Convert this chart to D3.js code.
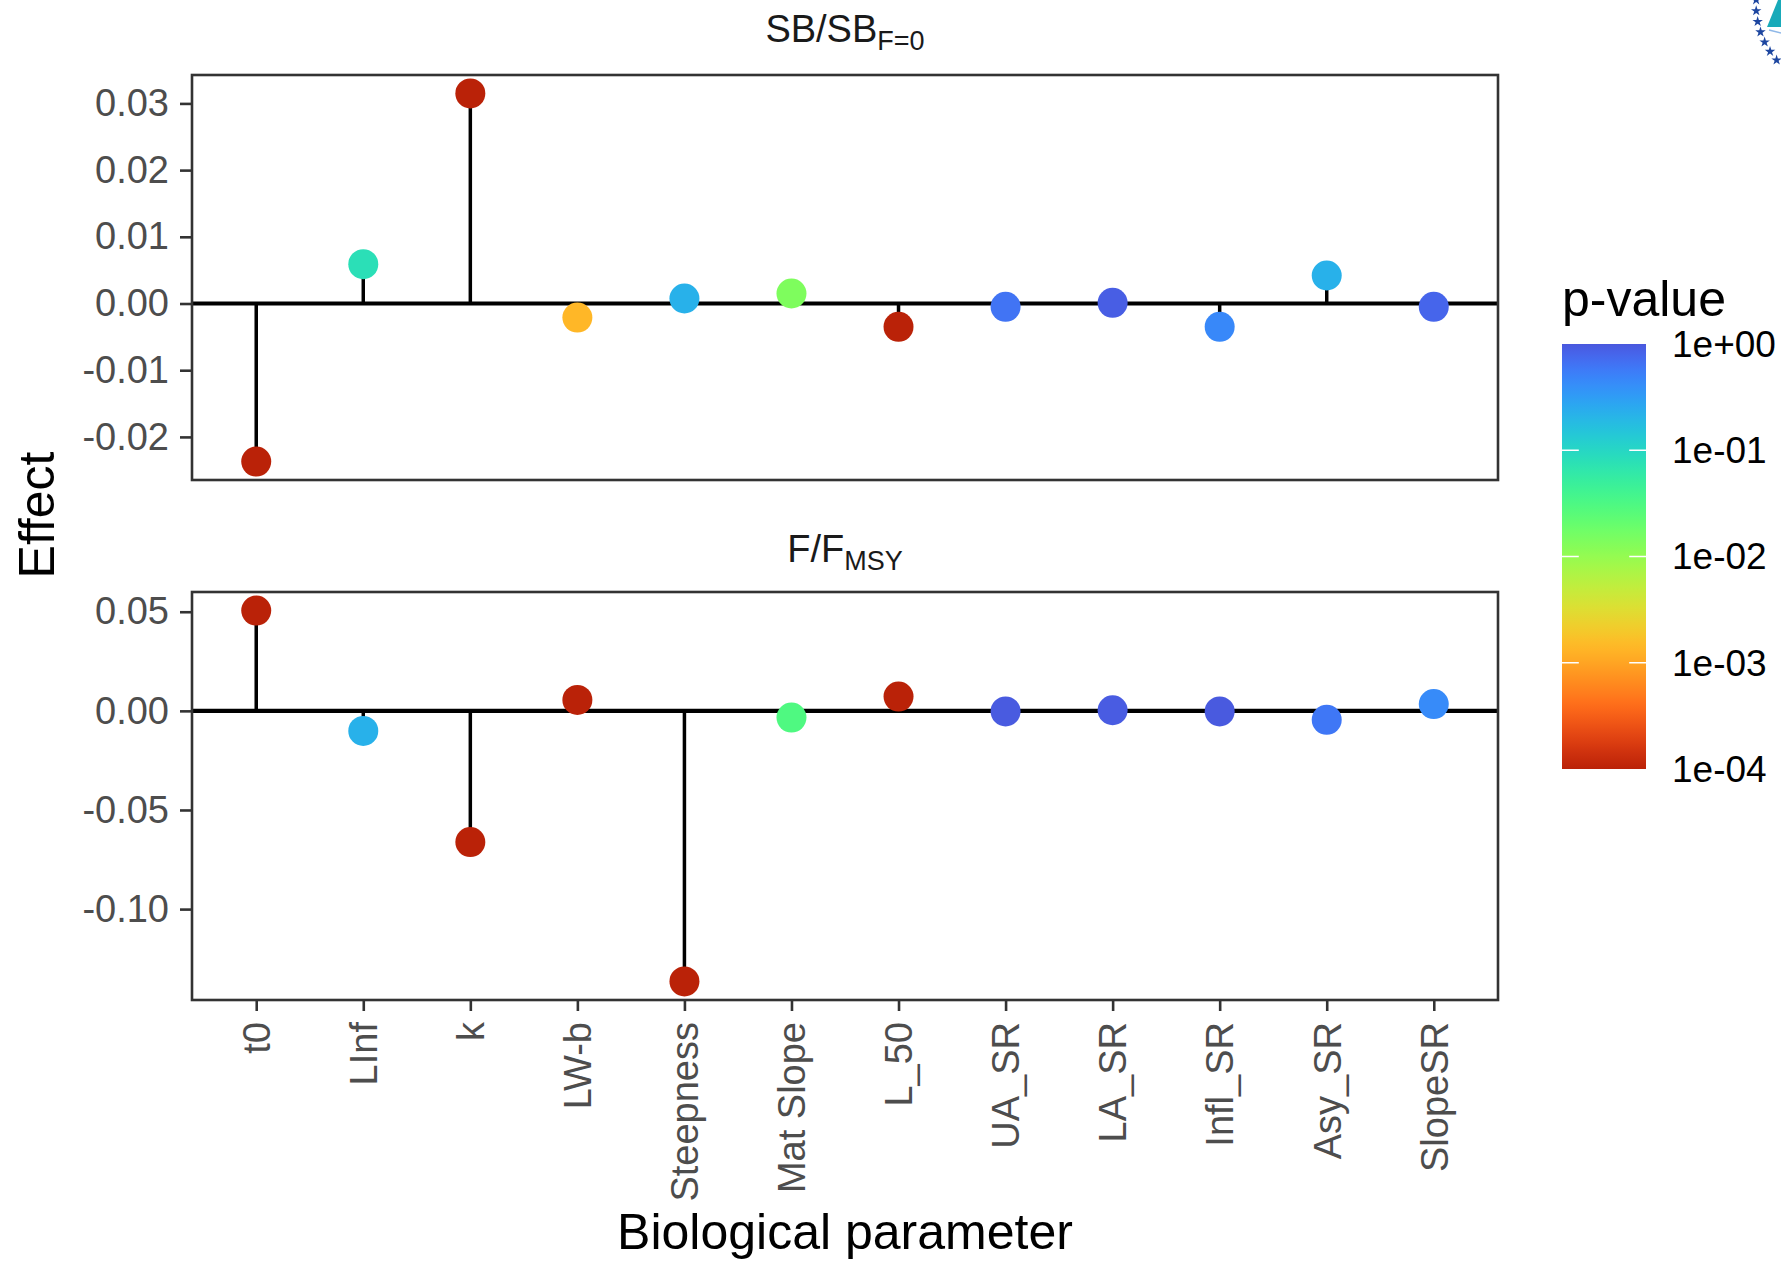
<!DOCTYPE html>
<html lang="en">
<head>
  <meta charset="UTF-8" />
  <title>Effect of biological parameters</title>
  <script src="https://cdn.jsdelivr.net/npm/d3@7"></script>
  <style>
    body {
      margin: 0;
      background: #fff;
      font-family: "Liberation Sans", Arial, sans-serif;
    }
  </style>
</head>
<body>
  <div id="chart"></div>

  <script type="text/javascript">
    // Biological parameters on the x axis
    var params = ["t0", "LInf", "k", "LW-b", "Steepness", "Mat Slope", "L_50",
                  "UA_SR", "LA_SR", "Infl_SR", "Asy_SR", "SlopeSR"];

    // SB/SB(F=0) panel
    var sbEffect = [-0.0237, 0.0059, 0.0315, -0.0021, 0.00075, 0.0015, -0.0035,
                    -0.0005, 0.0001, -0.0035, 0.0042, -0.0005];
    var sbPvalue = [1e-4, 0.08, 1e-4, 0.0014, 0.22, 0.014, 1e-4,
                    0.63, 0.9, 0.45, 0.22, 0.8];
    var sbTicks = [-0.02, -0.01, 0.00, 0.01, 0.02, 0.03];

    // F/FMSY panel
    var fEffect = [0.0506, -0.0101, -0.0662, 0.0055, -0.1365, -0.0034, 0.0072,
                   -0.0003, 0.0003, -0.0003, -0.0045, 0.0034];
    var fPvalue = [1e-4, 0.22, 1e-4, 1e-4, 1e-4, 0.03, 1e-4,
                   0.95, 0.93, 0.97, 0.6, 0.43];
    var fTicks = [-0.10, -0.05, 0.00, 0.05];

    // colour bar
    var legendValues = [1, 0.1, 0.01, 0.001, 0.0001];
    var legendLabels = ["1e+00", "1e-01", "1e-02", "1e-03", "1e-04"];

    var width = 1781, height = 1262;
    var left = 192, right = 1498;

    var svg = d3.select("#chart").append("svg")
      .attr("width", width)
      .attr("height", height)
      .style("display", "block");

    var x = d3.scalePoint().domain(params).range([left, right]).padding(0.6);

    // turbo palette, trimmed at both ends, reversed (blue = p of 1)
    var color = d3.scaleSequentialLog([1e-4, 1], function(t) {
      return d3.interpolateTurbo(0.9 - 0.8 * t);
    }).clamp(true);

    var panels = [
      { title: "SB/SB", sub: "F=0", titleY: 42, top: 75, bottom: 480,
        effect: sbEffect, pvalue: sbPvalue, ticks: sbTicks },
      { title: "F/F", sub: "MSY", titleY: 562, top: 592, bottom: 1000,
        effect: fEffect, pvalue: fPvalue, ticks: fTicks }
    ];

    panels.forEach(function(p, pi) {
      var data = params.map(function(name, i) {
        return { name: name, effect: p.effect[i], pvalue: p.pvalue[i] };
      });

      // ggplot style 5% expansion, zero line included
      var ext = d3.extent(p.effect.concat([0]));
      var pad = (ext[1] - ext[0]) * 0.05;
      var y = d3.scaleLinear()
        .domain([ext[0] - pad, ext[1] + pad])
        .range([p.bottom, p.top]);

      var g = svg.append("g");

      // strip title with subscript
      var title = g.append("text")
        .attr("x", (left + right) / 2)
        .attr("y", p.titleY)
        .attr("text-anchor", "middle")
        .attr("fill", "#1a1a1a")
        .style("font-size", "38px");
      title.append("tspan").text(p.title);
      title.append("tspan")
        .attr("dy", 7.5)
        .style("font-size", "27px")
        .text(p.sub);

      // y axis
      var yAxis = g.append("g")
        .attr("transform", "translate(" + left + ",0)")
        .call(d3.axisLeft(y)
          .tickValues(p.ticks)
          .tickSize(12)
          .tickPadding(11)
          .tickFormat(function(d) { return d.toFixed(2); }));
      yAxis.select(".domain").remove();
      yAxis.selectAll(".tick line").attr("stroke", "#333").attr("stroke-width", 2.6);
      yAxis.selectAll(".tick text")
        .attr("fill", "#4d4d4d")
        .style("font-size", "38px")
        .style("font-family", "'Liberation Sans', Arial, sans-serif");

      // x axis ticks on the lower panel only
      if (pi === panels.length - 1) {
        var xAxis = g.append("g")
          .attr("transform", "translate(0," + p.bottom + ")")
          .call(d3.axisBottom(x).tickSize(11));
        xAxis.select(".domain").remove();
        xAxis.selectAll(".tick line").attr("stroke", "#333").attr("stroke-width", 2.6);
        xAxis.selectAll(".tick text")
          .attr("transform", "rotate(-90)")
          .attr("x", -22)
          .attr("y", 0)
          .attr("dy", "0.35em")
          .attr("fill", "#4d4d4d")
          .style("text-anchor", "end")
          .style("font-size", "38px")
          .style("font-family", "'Liberation Sans', Arial, sans-serif");
      }

      // zero line
      g.append("line")
        .attr("x1", left).attr("x2", right)
        .attr("y1", y(0)).attr("y2", y(0))
        .attr("stroke", "#000")
        .attr("stroke-width", 4.2);

      // stems
      g.selectAll(".stem")
        .data(data)
        .join("line")
        .attr("class", "stem")
        .attr("x1", function(d) { return x(d.name); })
        .attr("x2", function(d) { return x(d.name); })
        .attr("y1", y(0))
        .attr("y2", function(d) { return y(d.effect); })
        .attr("stroke", "#000")
        .attr("stroke-width", 3.5);

      // points
      g.selectAll(".dot")
        .data(data)
        .join("circle")
        .attr("class", "dot")
        .attr("cx", function(d) { return x(d.name); })
        .attr("cy", function(d) { return y(d.effect); })
        .attr("r", 15)
        .attr("fill", function(d) { return color(d.pvalue); });

      // panel border
      g.append("rect")
        .attr("x", left).attr("y", p.top)
        .attr("width", right - left)
        .attr("height", p.bottom - p.top)
        .attr("fill", "none")
        .attr("stroke", "#333")
        .attr("stroke-width", 2.6);
    });

    // axis titles
    svg.append("text")
      .attr("transform", "translate(54,515) rotate(-90)")
      .attr("text-anchor", "middle")
      .style("font-size", "50px")
      .text("Effect");

    svg.append("text")
      .attr("x", (left + right) / 2)
      .attr("y", 1249)
      .attr("text-anchor", "middle")
      .style("font-size", "50px")
      .text("Biological parameter");

    // colour bar legend
    var barX = 1562, barTop = 344, barBottom = 769, barW = 84;
    var ly = d3.scaleLog().domain([1, 1e-4]).range([barTop, barBottom]);

    var grad = svg.append("defs").append("linearGradient")
      .attr("id", "pgrad")
      .attr("x1", 0).attr("y1", 0).attr("x2", 0).attr("y2", 1);
    grad.selectAll("stop")
      .data(d3.range(0, 1.0001, 0.02))
      .join("stop")
      .attr("offset", function(t) { return t; })
      .attr("stop-color", function(t) { return color(Math.pow(10, -4 * t)); });

    svg.append("text")
      .attr("x", barX)
      .attr("y", 316)
      .style("font-size", "50px")
      .text("p-value");

    svg.append("rect")
      .attr("x", barX).attr("y", barTop)
      .attr("width", barW).attr("height", barBottom - barTop)
      .attr("fill", "url(#pgrad)");

    var inner = legendValues.slice(1, -1);
    svg.selectAll(".ltick-l")
      .data(inner)
      .join("line")
      .attr("x1", barX).attr("x2", barX + barW / 5)
      .attr("y1", function(d) { return ly(d); })
      .attr("y2", function(d) { return ly(d); })
      .attr("stroke", "#fff").attr("stroke-width", 1.5);
    svg.selectAll(".ltick-r")
      .data(inner)
      .join("line")
      .attr("x1", barX + barW * 4 / 5).attr("x2", barX + barW)
      .attr("y1", function(d) { return ly(d); })
      .attr("y2", function(d) { return ly(d); })
      .attr("stroke", "#fff").attr("stroke-width", 1.5);

    svg.selectAll(".llabel")
      .data(legendValues)
      .join("text")
      .attr("x", 1672)
      .attr("y", function(d) { return ly(d); })
      .attr("dy", "0.35em")
      .style("font-size", "37px")
      .text(function(d, i) { return legendLabels[i]; });

    // corner of the agency logo, cut off at the edge of the page
    var logo = svg.append("g");
    logo.append("polygon")
      .attr("points", "1767,27 1778,0 1781,0 1781,27")
      .attr("fill", "#18aab9");
    logo.append("line")
      .attr("x1", 1769).attr("y1", 30).attr("x2", 1781).attr("y2", 33)
      .attr("stroke", "#8fb8e8").attr("stroke-width", 1.5);
    var star = d3.symbol().type(d3.symbolStar).size(34);
    logo.selectAll("path")
      .data(d3.range(7))
      .join("path")
      .attr("d", star)
      .attr("fill", "#1d46a0")
      .attr("transform", function(i) {
        var a = (183.4 - i * 7.4) * Math.PI / 180;
        return "translate(" + (1840 + 84 * Math.cos(a)) + "," + (5 + 84 * Math.sin(a)) + ")";
      });
  </script>
</body>
</html>
